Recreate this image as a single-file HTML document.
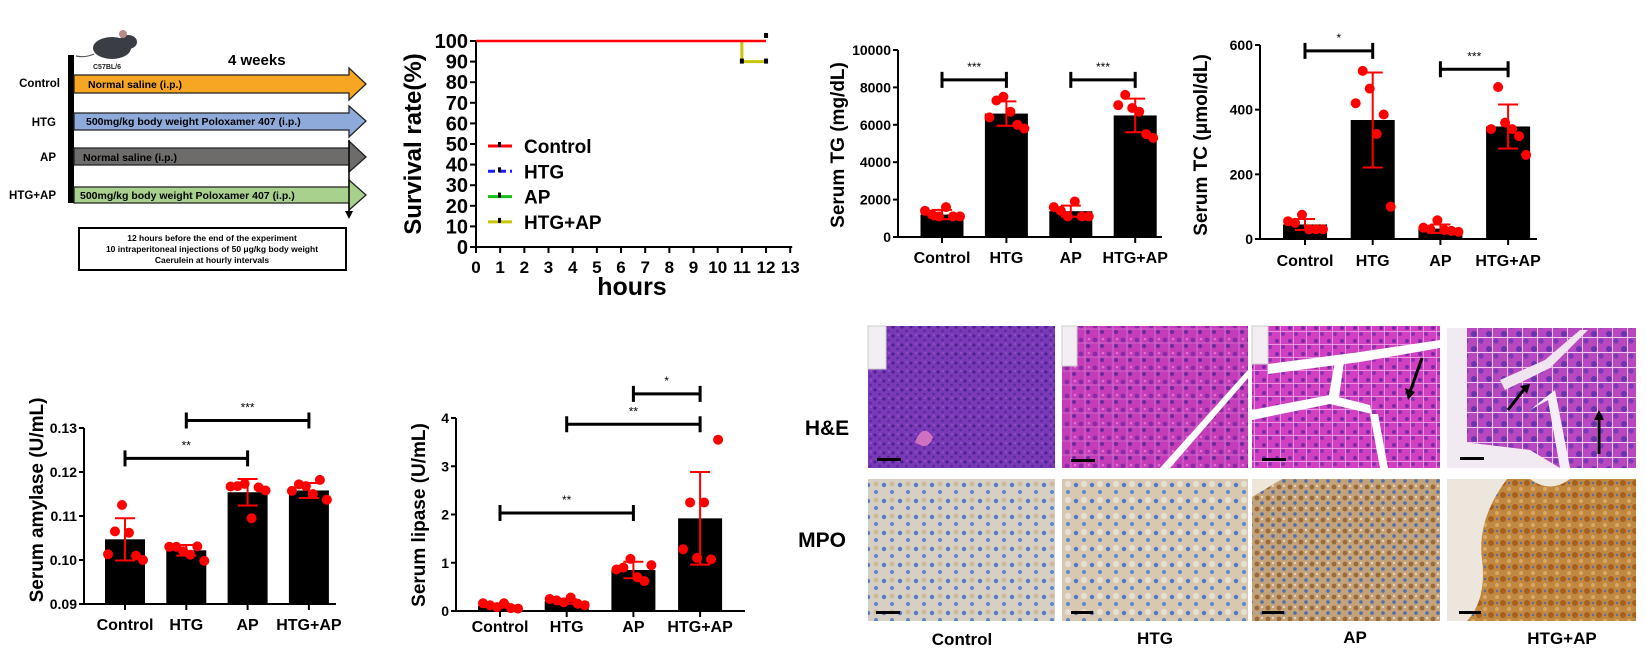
<!DOCTYPE html>
<html><head><meta charset="utf-8">
<style>
html,body{margin:0;padding:0;background:#fff;}
svg{display:block;font-family:"Liberation Sans",Arial,sans-serif;}
.b{font-weight:bold;}
</style></head>
<body>
<svg id="fig" width="1646" height="658" viewBox="0 0 1646 658" xmlns="http://www.w3.org/2000/svg">
<defs>
  <pattern id="heCtrl" width="9" height="9" patternUnits="userSpaceOnUse"><rect width="9" height="9" fill="#7a3ab8"/><circle cx="2" cy="3" r="1.6" fill="#4a2290"/><circle cx="6.5" cy="7" r="1.4" fill="#5b2aa0"/><circle cx="7" cy="2" r="1" fill="#9a50c8"/></pattern>
  <pattern id="heHtg" width="14" height="14" patternUnits="userSpaceOnUse"><rect width="14" height="14" fill="#c43cb8"/><circle cx="3" cy="4" r="2.4" fill="#8a2aa8"/><circle cx="10" cy="10" r="2" fill="#6a2a9c"/><circle cx="11" cy="3" r="1.3" fill="#e070d0"/><path d="M0 7H14M7 0V14" stroke="#d88ad8" stroke-width="0.6"/></pattern>
  <pattern id="heAp" width="13" height="13" patternUnits="userSpaceOnUse"><rect width="13" height="13" fill="#d040c0"/><circle cx="3" cy="3" r="2" fill="#7a2aa8"/><circle cx="9" cy="9" r="2" fill="#8a30b0"/><path d="M0 6.5H13M6.5 0V13" stroke="#f0b0e8" stroke-width="0.7"/></pattern>
  <pattern id="heHa" width="15" height="15" patternUnits="userSpaceOnUse"><rect width="15" height="15" fill="#b848c0"/><circle cx="4" cy="4" r="3" fill="#6a34b0"/><circle cx="11" cy="11" r="2.6" fill="#7a3ab8"/><path d="M0 7.5H15M7.5 0V15" stroke="#f0c8f0" stroke-width="1"/></pattern>
  <pattern id="mpoC" width="16" height="16" patternUnits="userSpaceOnUse"><rect width="16" height="16" fill="#d8cfc4"/><circle cx="4" cy="5" r="2.2" fill="#4d7cc4"/><circle cx="12" cy="12" r="2" fill="#5b88cc"/><circle cx="12" cy="4" r="2.5" fill="#c8a880" opacity="0.6"/></pattern>
  <pattern id="mpoH" width="16" height="16" patternUnits="userSpaceOnUse"><rect width="16" height="16" fill="#d8c8b2"/><circle cx="4" cy="5" r="2.2" fill="#4d7cc4"/><circle cx="12" cy="12" r="2" fill="#5b88cc"/><circle cx="12" cy="4" r="3" fill="#e8e0d4"/></pattern>
  <pattern id="mpoA" width="11" height="11" patternUnits="userSpaceOnUse"><rect width="11" height="11" fill="#c4a27a"/><circle cx="3" cy="3" r="2.4" fill="#9a6a38"/><circle cx="8" cy="8" r="1.8" fill="#4d70b0"/><circle cx="8" cy="2" r="1.2" fill="#e0d4c4"/></pattern>
  <pattern id="mpoHA" width="12" height="12" patternUnits="userSpaceOnUse"><rect width="12" height="12" fill="#c08840"/><circle cx="3" cy="3" r="3" fill="#a8601e"/><circle cx="9" cy="9" r="2" fill="#d8a868"/><circle cx="9" cy="3" r="1.2" fill="#5070a8"/></pattern>
</defs>

<!-- ================= Schematic ================= -->
<g>
  <g>
    <ellipse cx="112" cy="48" rx="19" ry="11" fill="#3a3d44"/>
    <ellipse cx="128" cy="42" rx="9" ry="7" fill="#3a3d44"/>
    <circle cx="123" cy="34" r="4" fill="#b98a8a"/>
    <path d="M94 54 Q85 58 76 56" stroke="#555" stroke-width="1.2" fill="none"/>
  </g>
  <text x="93" y="69" font-size="7" class="b" fill="#222">C57BL/6</text>
  <text x="228" y="65" font-size="15" class="b">4 weeks</text>
  <rect x="68" y="55" width="6" height="148" fill="#000"/>
  <polygon points="74,75 349,75 349,68 366,84 349,100 349,93 74,93" fill="#f6a623" stroke="#222" stroke-width="1.3"/>
  <text x="88" y="88" font-size="10.5" class="b">Normal saline (i.p.)</text>
  <polygon points="74,113 349,113 349,106 366,121 349,137 349,130 74,130" fill="#8eaadb" stroke="#222" stroke-width="1.3"/>
  <text x="86" y="125" font-size="10.5" class="b">500mg/kg body weight Poloxamer 407 (i.p.)</text>
  <polygon points="74,148 349,148 349,141 366,157 349,172 349,165 74,165" fill="#6e6b6b" stroke="#222" stroke-width="1.3"/>
  <text x="83" y="161" font-size="10.5" class="b">Normal saline (i.p.)</text>
  <polygon points="74,187 349,187 349,180 366,195 349,210 349,203 74,203" fill="#a9d18e" stroke="#222" stroke-width="1.3"/>
  <text x="80" y="199" font-size="10.5" class="b">500mg/kg body weight Poloxamer 407 (i.p.)</text>
  <line x1="349" y1="140" x2="349" y2="212" stroke="#000" stroke-width="1.5"/>
  <polygon points="345,211 353,211 349,219" fill="#000"/>
  <text x="60" y="87" font-size="11.5" class="b" text-anchor="end">Control</text>
  <text x="56" y="126" font-size="11.5" class="b" text-anchor="end">HTG</text>
  <text x="56" y="161" font-size="11.5" class="b" text-anchor="end">AP</text>
  <text x="56" y="199" font-size="11.5" class="b" text-anchor="end">HTG+AP</text>
  <rect x="79" y="228" width="267" height="42" fill="#fff" stroke="#000" stroke-width="2"/>
  <g font-size="8.5" class="b" text-anchor="middle">
    <text x="212" y="241">12 hours before the end of the experiment</text>
    <text x="212" y="252">10 intraperitoneal injections of 50 μg/kg body weight</text>
    <text x="212" y="263">Caerulein at hourly intervals</text>
  </g>
</g>

<g id="survival"></g>
<g id="tg"></g>
<g id="tc"></g>
<g id="amy"></g>
<g id="lip"></g>

<!-- ================= Histology ================= -->
<g>
  <text x="827" y="435" font-size="21" class="b" text-anchor="middle">H&amp;E</text>
  <text x="822" y="547" font-size="21" class="b" text-anchor="middle">MPO</text>

  <g>
    <rect x="868" y="326" width="187" height="142" fill="url(#heCtrl)"/>
    <rect x="868" y="326" width="18" height="43" fill="#f2eef4" stroke="#ccc"/>
    <path d="M915 442 q8 -20 18 -5 q-5 15 -18 5z" fill="#d070c0"/>
    <rect x="877" y="458" width="24" height="3" fill="#000"/>
  </g>
  <g>
    <rect x="1062" y="326" width="186" height="142" fill="url(#heHtg)"/>
    <rect x="1062" y="326" width="15" height="40" fill="#f4eef4" stroke="#ccc"/>
    <path d="M1160 468 L1248 370 L1248 378 L1170 468z" fill="#fff"/>
    <rect x="1071" y="459" width="24" height="3" fill="#000"/>
  </g>
  <g>
    <rect x="1252" y="326" width="188" height="142" fill="url(#heAp)"/>
    <rect x="1252" y="326" width="16" height="38" fill="#f4eef4" stroke="#ccc"/>
    <path d="M1268 364 L1360 352 L1440 340 L1440 348 L1360 362 L1268 374z" fill="#fff"/>
    <path d="M1252 410 L1330 395 L1370 405 L1372 414 L1330 404 L1252 420z" fill="#fff"/>
    <path d="M1335 362 L1328 400 L1338 404 L1344 362z" fill="#fff"/>
    <path d="M1370 414 L1380 468 L1388 468 L1378 414z" fill="#fff"/>
    <line x1="1422" y1="358" x2="1410" y2="392" stroke="#000" stroke-width="3"/>
    <polygon points="1405,388 1415,392 1408,400" fill="#000"/>
    <rect x="1262" y="458" width="24" height="3" fill="#000"/>
  </g>
  <g>
    <rect x="1447" y="328" width="189" height="140" fill="url(#heHa)"/>
    <path d="M1447 328 h20 v140 h-20z" fill="#f2eaf2"/>
    <path d="M1447 440 L1530 450 L1560 468 L1447 468z" fill="#f2eaf2"/>
    <path d="M1530 410 L1555 390 L1570 468 L1560 468 L1548 400z" fill="#f6eef6"/>
    <path d="M1500 380 L1545 360 L1580 330 L1588 330 L1550 368 L1505 390z" fill="#f0e4f0"/>
    <line x1="1508" y1="410" x2="1525" y2="388" stroke="#000" stroke-width="3"/>
    <polygon points="1520,386 1530,384 1527,394" fill="#000"/>
    <line x1="1599" y1="454" x2="1599" y2="418" stroke="#000" stroke-width="3"/>
    <polygon points="1594,420 1604,420 1599,410" fill="#000"/>
    <rect x="1460" y="457" width="24" height="3" fill="#000"/>
  </g>

  <g>
    <rect x="868" y="479" width="187" height="142" fill="url(#mpoC)"/>
    <rect x="876" y="611" width="24" height="3" fill="#000"/>
  </g>
  <g>
    <rect x="1062" y="479" width="186" height="142" fill="url(#mpoH)"/>
    <rect x="1071" y="611" width="22" height="3" fill="#000"/>
  </g>
  <g>
    <rect x="1252" y="479" width="188" height="142" fill="url(#mpoA)"/>
    <path d="M1252 479 h30 l-30 18z" fill="#efe6da"/>
    <rect x="1262" y="611" width="22" height="3" fill="#000"/>
  </g>
  <g>
    <rect x="1447" y="479" width="189" height="142" fill="url(#mpoHA)"/>
    <path d="M1447 479 h60 q-30 40 -25 80 q5 40 -15 62 h-20z" fill="#ece6dc"/>
    <path d="M1530 479 q20 15 40 0z" fill="#efe8de"/>
    <rect x="1459" y="611" width="22" height="3" fill="#000"/>
  </g>
  <g font-size="17" class="b" text-anchor="middle">
    <text x="962" y="645">Control</text>
    <text x="1155" y="644">HTG</text>
    <text x="1355" y="643">AP</text>
    <text x="1562" y="644">HTG+AP</text>
  </g>
</g>
</svg>

<script>
// ---------- Survival data ----------
const survHours = [0,1,2,3,4,5,6,7,8,9,10,11,12,13];
const survTicksY = [0,10,20,30,40,50,60,70,80,90,100];
const survControlT = [0,12];
const survControlV = [100,100];
const survHtgApT = [11,11,12];
const survHtgApV = [100,90,90];
const survLegend = ["Control","HTG","AP","HTG+AP"];

// ---------- Bar chart data ----------
const groups = ["Control","HTG","AP","HTG+AP"];
const tgMean = [1200,6600,1380,6500];
const tgSD = [250,650,300,900];
const tgPts = [[1400,1200,1100,1600,1100,1100],[6400,7300,7500,6700,6000,5800],[1600,1400,1100,1900,1100,1100],[7050,7600,6900,6700,5500,5300]];
const tgTicks = [0,2000,4000,6000,8000,10000];
const tgSig = [[0,1,8400,"***"],[2,3,8400,"***"]];

const tcMean = [45,368,32,348];
const tcSD = [17,147,13,68];
const tcPts = [[55,50,75,30,30,30],[420,520,465,325,385,100],[35,30,58,28,25,22],[340,470,360,340,318,260]];
const tcTicks = [0,200,400,600];
const tcSig = [[0,1,582,"*"],[2,3,525,"***"]];

const amyMean = [0.1047,0.1022,0.1154,0.1158];
const amySD = [0.0048,0.0012,0.0030,0.0017];
const amyPts = [[0.1013,0.1065,0.1125,0.1062,0.1010,0.1000],[0.1030,0.1030,0.1020,0.1012,0.1031,0.0998],[0.1167,0.1168,0.1173,0.1095,0.1165,0.1158],[0.1157,0.1172,0.1168,0.1150,0.1182,0.1137]];
const amyTicks = [0.09,0.10,0.11,0.12,0.13];
const amySig = [[0,2,0.1231,"**"],[1,3,0.1317,"***"]];

const lipMean = [0.11,0.20,0.85,1.92];
const lipSD = [0.04,0.05,0.17,0.96];
const lipPts = [[0.16,0.12,0.08,0.16,0.06,0.05],[0.25,0.22,0.18,0.28,0.15,0.12],[0.86,0.90,1.08,0.70,0.62,0.95],[1.28,2.25,1.10,2.25,1.07,3.55]];
const lipTicks = [0,1,2,3,4];
const lipSig = [[0,2,2.03,"**"],[1,3,3.87,"**"],[2,3,4.50,"*"]];

const NS = "http://www.w3.org/2000/svg";
function mk(parent, tag, attrs, txt){
  const e = document.createElementNS(NS, tag);
  for (const k in attrs) e.setAttribute(k, attrs[k]);
  if (txt !== undefined) e.textContent = txt;
  parent.appendChild(e);
  return e;
}

// ---------- Survival ----------
(function(){
  const g = document.getElementById("survival");
  const x0=476, pxPerH=24.17, y0=247, y100=41;
  const xs = h => x0 + h*pxPerH;
  const ys = v => y0 - (v/100)*(y0-y100);
  const ax = mk(g,"path",{d:`M${x0} ${y100} V${y0} H${xs(13)+2}`,stroke:"#000","stroke-width":2,fill:"none"});
  
  
  survTicksY.forEach(v=>{
    mk(g,"line",{x1:x0-6,x2:x0,y1:ys(v),y2:ys(v),stroke:"#000","stroke-width":2});
    const t = mk(g,"text",{x:x0-8,y:ys(v)+7,"font-size":20,"font-weight":"bold","text-anchor":"end"},String(v));
    
    
  });
  survHours.forEach(h=>{
    mk(g,"line",{x1:xs(h),x2:xs(h),y1:y0,y2:y0+6,stroke:"#000","stroke-width":2});
    const t = mk(g,"text",{x:xs(h),y:y0+26,"font-size":17,"font-weight":"bold","text-anchor":"middle"},String(h));
    
    
  });
  const yl = mk(g,"text",{x:0,y:0,"font-size":24,"font-weight":"bold","text-anchor":"middle",transform:`translate(421,144) rotate(-90)`},"Survival rate(%)");
  
  
  const xl = mk(g,"text",{x:632,y:295,"font-size":25,"font-weight":"bold","text-anchor":"middle"},"hours");
  
  
  // HTG+AP line
  let d = survHtgApT.map((t,i)=>`${i?'L':'M'}${xs(t)} ${ys(survHtgApV[i])}`).join(" ");
  const l2 = mk(g,"path",{d:d,stroke:"#c8c40a","stroke-width":3,fill:"none"});
  
  
  d = survControlT.map((t,i)=>`${i?'L':'M'}${xs(t)} ${ys(survControlV[i])}`).join(" ");
  const l1 = mk(g,"path",{d:d,stroke:"#f00","stroke-width":2.5,fill:"none"});
  
  
  // censor marks
  mk(g,"rect",{x:xs(12)-2,y:ys(100)-8,width:4,height:5,fill:"#000"});
  mk(g,"rect",{x:xs(11)-2,y:ys(90)-3,width:4,height:5,fill:"#000"});
  mk(g,"rect",{x:xs(12)-2,y:ys(90)-3,width:4,height:5,fill:"#000"});
  // legend
  const cols = ["#f00","#1a1aff","#16c016","#c8c40a"];
  survLegend.forEach((name,i)=>{
    const y = 146 + i*25.3;
    const lg = mk(g,"g",{});
    
    
    if (i===1){
      mk(lg,"line",{x1:488,x2:512,y1:y,y2:y,stroke:cols[i],"stroke-width":3,"stroke-dasharray":"7 4"});
    } else {
      mk(lg,"line",{x1:488,x2:512,y1:y,y2:y,stroke:cols[i],"stroke-width":3});
    }
    mk(lg,"rect",{x:498,y:y-4,width:3,height:5,fill:"#000"});
    mk(lg,"text",{x:524,y:y+7,"font-size":19,"font-weight":"bold"},name);
  });
})();

// ---------- Bar chart drawer ----------
function barChart(id, key, o, means, sds, pts, ticks, sigs, title, fmt){
  const g = document.getElementById(id);
  const ys = v => o.y0 - (v - ticks[0])/(ticks[ticks.length-1]-ticks[0])*(o.y0-o.yTop);
  const xc = i => o.x0 + o.off + i*o.step;
  const ax = mk(g,"path",{d:`M${o.x0} ${o.yTop} V${o.y0} H${o.xEnd}`,stroke:"#000","stroke-width":2,fill:"none"});
  
  
  ticks.forEach(v=>{
    mk(g,"line",{x1:o.x0-5,x2:o.x0,y1:ys(v),y2:ys(v),stroke:"#000","stroke-width":2});
    const t = mk(g,"text",{x:o.x0-7,y:ys(v)+5,"font-size":14,"font-weight":"bold","text-anchor":"end"},fmt(v));
    
    
  });
  const yl = mk(g,"text",{x:0,y:0,"font-size":19,"font-weight":"bold","text-anchor":"middle",transform:`translate(${o.ylx},${o.yly}) rotate(-90)`},title);
  
  
  const offs = [-17,-10,-3,4,11,18];
  groups.forEach((name,i)=>{
    const c = xc(i);
    mk(g,"line",{x1:c,x2:c,y1:o.y0,y2:o.y0+6,stroke:"#000","stroke-width":2});
    const t = mk(g,"text",{x:c,y:o.labY,"font-size":16,"font-weight":"bold","text-anchor":"middle"},name);
    
    
    const bar = mk(g,"rect",{x:c-o.bw/2,y:ys(means[i]),width:o.bw,height:o.y0-ys(means[i]),fill:"#000"});
    
    
    pts[i].forEach((v,j)=>{
      const p = mk(g,"circle",{cx:c+offs[j],cy:ys(v),r:5,fill:"#f00"});
      
      
    });
    const hi = ys(means[i]+sds[i]), lo = ys(Math.max(ticks[0], means[i]-sds[i]));
    const eb = mk(g,"path",{d:`M${c} ${hi} V${lo} M${c-10} ${hi} H${c+10} M${c-10} ${lo} H${c+10}`,stroke:"#f00","stroke-width":2,fill:"none"});
    
    
  });
  sigs.forEach(s=>{
    const a = xc(s[0]), b = xc(s[1]), y = ys(s[2]);
    const br = mk(g,"path",{d:`M${a} ${y-8} V${y+8} M${a} ${y} H${b} M${b} ${y-8} V${y+8}`,stroke:"#000","stroke-width":3,fill:"none"});
    
    
    const st = mk(g,"text",{x:(a+b)/2,y:y-9,"font-size":12,"text-anchor":"middle"},s[3]);
    
    
  });
}

barChart("tg","tg",{x0:898,xEnd:1162,yTop:50,y0:237,off:44,step:64.4,bw:43,labY:263,ylx:844,yly:145},
  tgMean,tgSD,tgPts,tgTicks,tgSig,"Serum TG (mg/dL)",v=>String(v));
barChart("tc","tc",{x0:1260,xEnd:1537,yTop:45,y0:239,off:45,step:67.7,bw:44,labY:266,ylx:1207,yly:145},
  tcMean,tcSD,tcPts,tcTicks,tcSig,"Serum TC (\u03bcmol/dL)",v=>String(v));
barChart("amy","amy",{x0:84,xEnd:336,yTop:428,y0:604,off:41,step:61.3,bw:40,labY:630,ylx:43,yly:500},
  amyMean,amySD,amyPts,amyTicks,amySig,"Serum amylase (U/mL)",v=>v.toFixed(2));
barChart("lip","lip",{x0:456,xEnd:745,yTop:418,y0:611,off:44,step:66.7,bw:44,labY:632,ylx:425,yly:515},
  lipMean,lipSD,lipPts,lipTicks,lipSig,"Serum lipase (U/mL)",v=>String(v));
</script>
</body></html>
